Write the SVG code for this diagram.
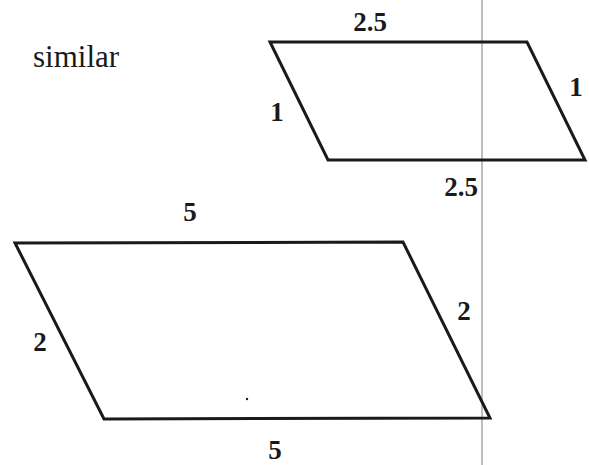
<svg xmlns="http://www.w3.org/2000/svg" width="589" height="465" viewBox="0 0 589 465">
<style>
.shape{fill:none;stroke:#1a1a1a;stroke-width:3;stroke-linejoin:miter}
.lbl{font-weight:bold;font-size:27px;fill:#1a1a1a;text-anchor:middle}
.title{font-size:31px;fill:#1a1a1a}
</style>
<rect width="589" height="465" fill="#ffffff"/>
<line x1="482" y1="0" x2="482" y2="465" stroke="#a8a8a8" stroke-width="1.5"/>
<g font-family="Liberation Serif, Times New Roman, DejaVu Serif, serif">
<text class="title" x="33" y="67">similar</text>
<g id="small-parallelogram">
<polygon class="shape" points="270,42 527,42 585,160 328,160"/>
<text class="lbl" x="370" y="31">2.5</text>
<text class="lbl" x="277" y="121">1</text>
<text class="lbl" x="576" y="96">1</text>
<text class="lbl" x="461" y="196">2.5</text>
</g>
<g id="large-parallelogram">
<polygon class="shape" points="15,243 403,242 490,418 104,419"/>
<text class="lbl" x="190" y="221">5</text>
<text class="lbl" x="40" y="351">2</text>
<text class="lbl" x="464" y="320">2</text>
<text class="lbl" x="275" y="459">5</text>
</g>
</g>
<circle cx="247" cy="399" r="1.2" fill="#1a1a1a"/>
<g id="connectors"/>
</svg>
